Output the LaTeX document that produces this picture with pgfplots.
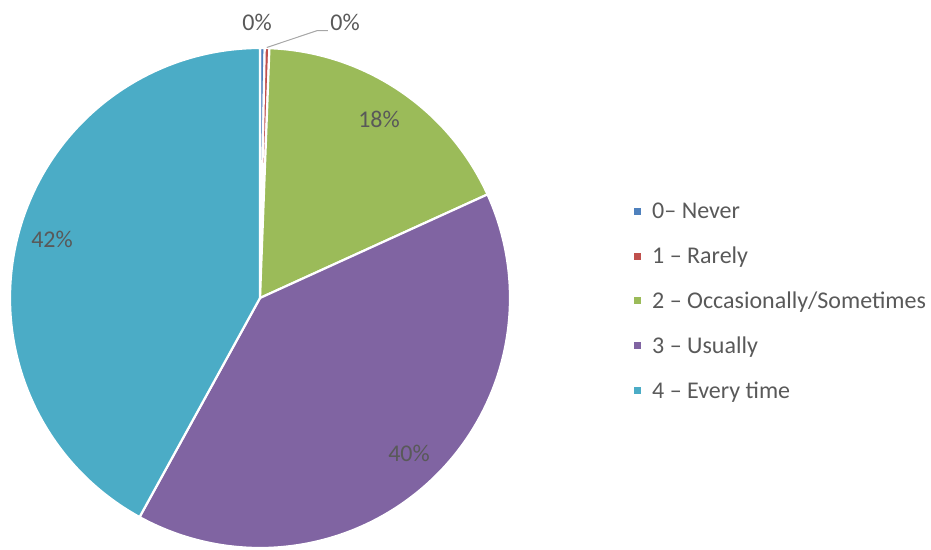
\documentclass[border=0pt]{standalone}
\usepackage{pgfplots}
\pgfplotsset{compat=1.18}
\usepackage{fontspec}
\setmainfont{Carlito}
\definecolor{cNever}{HTML}{4F81BD}
\definecolor{cRarely}{HTML}{C0504D}
\definecolor{cOcc}{HTML}{9BBB59}
\definecolor{cUsual}{HTML}{8064A2}
\definecolor{cEvery}{HTML}{4BACC6}
\definecolor{txt}{HTML}{595959}
\definecolor{lead}{HTML}{A6A6A6}
\newcommand\lbl{\fontsize{24}{28}\selectfont}
\begin{document}
\begin{tikzpicture}
\path[use as bounding box] (0,0) rectangle (931pt,549pt);
% percentages (clockwise from 12 o'clock)
\def\vA{0.3}\def\vB{0.3}\def\vC{17.6}\def\vD{39.8}\def\vE{42.0}
\pgfmathsetmacro\aA{90}
\pgfmathsetmacro\aB{\aA-3.6*\vA}
\pgfmathsetmacro\aC{\aB-3.6*\vB}
\pgfmathsetmacro\aD{\aC-3.6*\vC}
\pgfmathsetmacro\aE{\aD-3.6*\vD}
\pgfmathsetmacro\aF{\aE-3.6*\vE}
\begin{axis}[at={(260pt,251pt)}, anchor=origin, scale only axis,
  width=500pt, height=500pt, xmin=-1, xmax=1, ymin=-1, ymax=1,
  hide axis, clip=false,
  legend image code/.code={\fill[#1,draw=none] (0pt,-3.5pt) rectangle (7pt,3.5pt); \path[draw=none,fill=none] (0pt,0pt) rectangle (16pt,0.1pt);},
  legend style={at={(1.248,0.493)}, anchor=west, draw=none, fill=none,
    font=\lbl, text=txt, row sep=22.8pt, inner sep=0pt,
    nodes={inner sep=2pt}},
  legend cell align=left]
\addplot[fill=cNever, draw=white, line width=2.2pt, domain=\aB:\aA, samples=10, variable=\t, forget plot] ({cos(\t)},{sin(\t)}) -- (axis cs:0,0) -- cycle;
\addplot[fill=cRarely, draw=white, line width=2.2pt, domain=\aC:\aB, samples=10, variable=\t, forget plot] ({cos(\t)},{sin(\t)}) -- (axis cs:0,0) -- cycle;
\addplot[fill=cOcc, draw=white, line width=2.2pt, domain=\aD:\aC, samples=80, variable=\t, forget plot] ({cos(\t)},{sin(\t)}) -- (axis cs:0,0) -- cycle;
\addplot[fill=cUsual, draw=white, line width=2.2pt, domain=\aE:\aD, samples=150, variable=\t, forget plot] ({cos(\t)},{sin(\t)}) -- (axis cs:0,0) -- cycle;
\addplot[fill=cEvery, draw=white, line width=2.2pt, domain=\aF:\aE, samples=160, variable=\t, forget plot] ({cos(\t)},{sin(\t)}) -- (axis cs:0,0) -- cycle;
\addlegendimage{fill=cNever}\addlegendentry{0– Never}
\addlegendimage{fill=cRarely}\addlegendentry{1 – Rarely}
\addlegendimage{fill=cOcc}\addlegendentry{2 – Occasionally/Sometimes}
\addlegendimage{fill=cUsual}\addlegendentry{3 – Usually}
\addlegendimage{fill=cEvery}\addlegendentry{4 – Every time}
\node[font=\lbl, text=txt] at (axis cs:0.476,0.716) {18\%};
\node[font=\lbl, text=txt] at (axis cs:0.596,-0.62) {40\%};
\node[font=\lbl, text=txt] at (axis cs:-0.832,0.236) {42\%};
\node[font=\lbl, text=txt] at (axis cs:-0.012,1.104) {0\%};
\node[font=\lbl, text=txt] at (axis cs:0.34,1.104) {0\%};
\draw[lead, line width=1pt] (axis cs:0.027,1.002) -- (axis cs:0.227,1.069) -- (axis cs:0.271,1.069);
\end{axis}
\end{tikzpicture}
\end{document}
